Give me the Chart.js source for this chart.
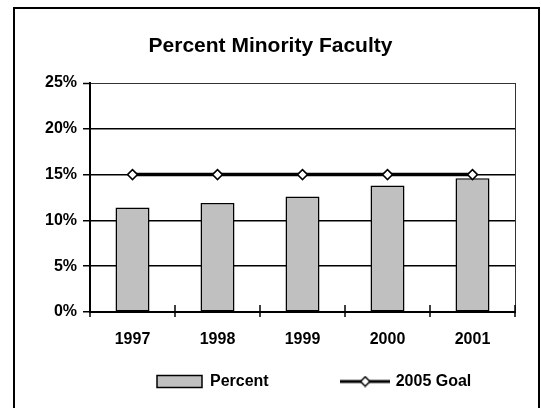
<!DOCTYPE html>
<html><head><meta charset="utf-8">
<script src="https://cdn.jsdelivr.net/npm/chart.js@4"></script>
<style>html,body{margin:0;padding:0;background:#fff}#wrap{width:541px;height:408px;position:relative}</style>
</head><body><div id="wrap"><canvas id="c" width="541" height="408"></canvas></div>
<script>
const categories = ['1997', '1998', '1999', '2000', '2001'];
const percentValues = [11.4, 11.9, 12.6, 13.8, 14.6];
const goalValues = [15, 15, 15, 15, 15];
const yTickMin = 0, yTickMax = 25, yTickStep = 5;
const titleText = 'Percent Minority Faculty';
const seriesNames = ['Percent', '2005 Goal'];

const FONT = "'Liberation Sans', Arial, sans-serif";
const LEGEND_X = 157, LEGEND_CY = 381.5, LEGEND_GAP = 74;

function makeGoalLegendIcon() {
  const c = document.createElement('canvas');
  c.width = 50; c.height = 12;
  const g = c.getContext('2d');
  g.strokeStyle = '#000'; g.lineWidth = 3;
  g.beginPath(); g.moveTo(0, 6); g.lineTo(50, 6); g.stroke();
  g.beginPath(); g.moveTo(25, 1.3); g.lineTo(29.7, 6); g.lineTo(25, 10.7); g.lineTo(20.3, 6); g.closePath();
  g.fillStyle = '#fff'; g.fill(); g.lineWidth = 1.5; g.stroke();
  return c;
}
const goalIcon = makeGoalLegendIcon();

const decorPlugin = {
  id: 'decor',
  beforeDraw(chart) {
    const ctx = chart.ctx;
    ctx.save(); ctx.fillStyle = '#fff'; ctx.fillRect(0, 0, chart.width, chart.height); ctx.restore();
  },
  afterLayout(chart) {
    const lg = chart.legend;
    const pad = lg.options.labels.padding;
    lg.left = LEGEND_X - pad; lg.right = chart.width + 300;
    lg.top = LEGEND_CY - pad - 8; lg.bottom = chart.height;
    lg.width = lg.right - lg.left; lg.height = lg.bottom - lg.top;
    const t = chart.titleBlock;
    t.left = 0; t.right = chart.width; t.width = chart.width;
  },
  afterDraw(chart) {
    const ctx = chart.ctx, a = chart.chartArea, xs = chart.scales.x;
    ctx.save();
    ctx.strokeStyle = '#333'; ctx.lineWidth = 1;
    ctx.beginPath(); ctx.moveTo(Math.round(a.right) + 0.5, a.top); ctx.lineTo(Math.round(a.right) + 0.5, a.bottom); ctx.stroke();
    ctx.strokeStyle = '#000'; ctx.lineWidth = 1.5;
    for (let i = 0; i <= categories.length; i++) {
      const x = xs.getPixelForValue(i - 0.5);
      ctx.beginPath(); ctx.moveTo(x, a.bottom - 7); ctx.lineTo(x, a.bottom + 5); ctx.stroke();
    }
    ctx.strokeStyle = '#000'; ctx.lineWidth = 2;
    ctx.beginPath();
    ctx.moveTo(14, chart.height); ctx.lineTo(14, 8); ctx.lineTo(539, 8); ctx.lineTo(539, chart.height);
    ctx.stroke();
    ctx.restore();
  }
};

new Chart(document.getElementById('c'), {
  type: 'bar',
  data: {
    labels: categories,
    datasets: [
      {
        type: 'bar', label: seriesNames[0], data: percentValues,
        backgroundColor: '#c0c0c0', borderColor: '#000', borderWidth: 1.5, borderSkipped: false,
        barPercentage: 0.4, categoryPercentage: 1, order: 1
      },
      {
        type: 'line', label: seriesNames[1], data: goalValues,
        borderColor: '#000', borderWidth: 3.5, fill: false,
        pointStyle: 'rectRot', pointRadius: 5, pointBackgroundColor: '#fff',
        pointBorderColor: '#000', pointBorderWidth: 1.5, order: 0
      }
    ]
  },
  options: {
    responsive: false, animation: false,
    layout: { padding: { left: 0, right: 26, top: 0, bottom: 0 } },
    plugins: {
      tooltip: { enabled: false },
      title: {
        display: true, text: titleText, color: '#000',
        font: { family: FONT, size: 21, weight: 'bold' },
        padding: { top: 34, bottom: 23.8 }
      },
      legend: {
        position: 'bottom', align: 'start', maxHeight: 56,
        labels: {
          usePointStyle: true, pointStyleWidth: 45, boxHeight: 12, padding: LEGEND_GAP,
          color: '#000', font: { family: FONT, size: 16, weight: 'bold' },
          sort: (a, b) => a.datasetIndex - b.datasetIndex,
          generateLabels(chart) {
            const items = Chart.defaults.plugins.legend.labels.generateLabels(chart);
            items.forEach(it => {
              if (it.datasetIndex === 0) {
                it.pointStyle = 'rect'; it.fillStyle = '#c0c0c0'; it.strokeStyle = '#000'; it.lineWidth = 1.5;
              } else {
                it.pointStyle = goalIcon;
              }
            });
            return items;
          }
        }
      }
    },
    scales: {
      x: {
        offset: true,
        grid: { drawOnChartArea: false, drawTicks: false, color: '#000' },
        border: { display: true, color: '#000', width: 2 },
        ticks: { color: '#000', padding: 18, font: { family: FONT, size: 16, weight: 'bold' } },
        afterFit(s) { s.height = 40; }
      },
      y: {
        min: yTickMin, max: yTickMax,
        grid: {
          color: (c) => c.tick && c.tick.value === yTickMax ? '#333' : '#000',
          lineWidth: (c) => c.tick && c.tick.value === yTickMax ? 1 : 1.5,
          tickLength: 7, tickColor: '#000', tickWidth: 1.5
        },
        border: { display: true, color: '#000', width: 2 },
        ticks: {
          stepSize: yTickStep, color: '#000', padding: 6,
          font: { family: FONT, size: 16, weight: 'bold' },
          callback: (v) => v + '%'
        },
        afterFit(s) { s.width = 90; }
      }
    }
  },
  plugins: [decorPlugin]
});
</script></body></html>
